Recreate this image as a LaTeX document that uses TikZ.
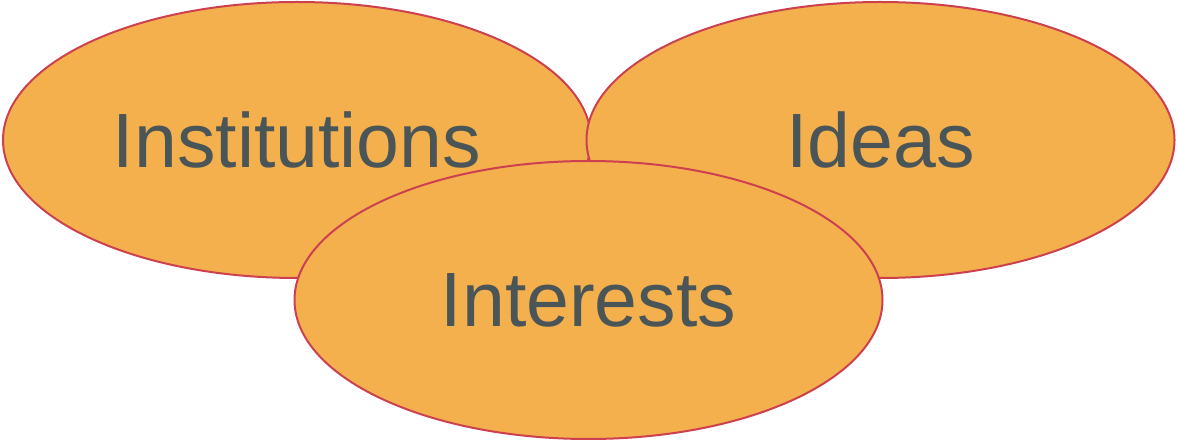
\documentclass[tikz,border=0pt]{standalone}
\usepackage{fontspec}
\setmainfont{Liberation Sans}
\usetikzlibrary{shapes.geometric}
\definecolor{blobfill}{HTML}{F4B04D}
\definecolor{blobline}{HTML}{CC4050}
\definecolor{blobtext}{HTML}{4A5558}
\tikzstyle{blob} = [ellipse, draw=blobline, fill=blobfill, line width=2pt, inner sep=0pt, minimum width=588pt, minimum height=276pt, text=blobtext, font=\fontsize{77}{90}\selectfont]

\begin{document}
\begin{tikzpicture}[x=1pt,y=-1pt]
      \useasboundingbox (0,0) rectangle (1178,443);
      %%%%%%%%%%%%%%%%%%%%%%%%%%%%%%%%%%%%%%%
      \node (inst) at (297,140) [blob] {Institutions};
      \node (ideas) at (880.5,140) [blob] {Ideas};
      \node (inter) at (588.5,300) [blob, minimum height=278pt] {Interests};
\end{tikzpicture}
\end{document}
